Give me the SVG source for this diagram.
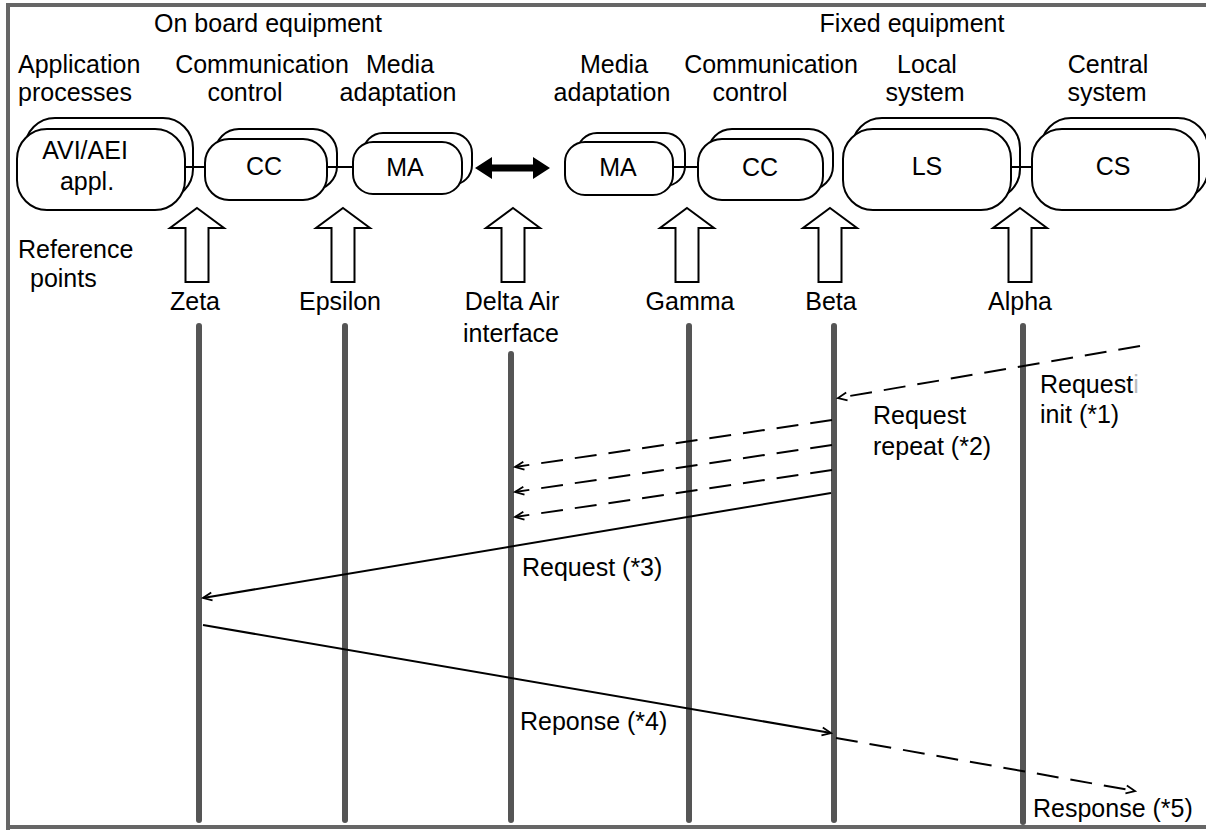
<svg xmlns="http://www.w3.org/2000/svg" width="1206" height="830" viewBox="0 0 1206 830">
<style>
text{font-family:"Liberation Sans",Arial,sans-serif;font-size:25px;fill:#000}
.c{text-anchor:middle}
.box{fill:#fff;stroke:#000;stroke-width:2}
.link{stroke:#000;stroke-width:2}
.life{stroke:#555;stroke-width:6;stroke-linecap:round}
.msg{stroke:#000;stroke-width:2;fill:none}
.dash{stroke-dasharray:22 12}
.ref{fill:#fff;stroke:#000;stroke-width:2}
.frame{stroke:#666;stroke-width:4;fill:none}
</style>
<defs>
<marker id="ah" viewBox="-11 -6 13 12" refX="0" refY="0" markerWidth="13" markerHeight="12" markerUnits="userSpaceOnUse" orient="auto">
<path d="M-9,-4 L0,0 L-9,4" fill="none" stroke="#000" stroke-width="1.8"/>
</marker>
<polygon id="up" points="0,208 27,228 11.5,228 11.5,282 -11.5,282 -11.5,228 -27,228"/>
</defs>
<rect width="1206" height="830" fill="#fff"/>
<path class="frame" d="M8,830 V5 H1206 M8,827 H1206"/>

<g id="headers">
<text class="c" x="268" y="32">On board equipment</text>
<text class="c" x="912" y="32">Fixed equipment</text>
<text x="18" y="73">Application</text>
<text x="18" y="101">processes</text>
<text class="c" x="262" y="73">Communication</text>
<text class="c" x="245" y="101">control</text>
<text class="c" x="400" y="73">Media</text>
<text class="c" x="398" y="101">adaptation</text>
<text class="c" x="614" y="73">Media</text>
<text class="c" x="612" y="101">adaptation</text>
<text class="c" x="771" y="73">Communication</text>
<text class="c" x="750" y="101">control</text>
<text class="c" x="927" y="73">Local</text>
<text class="c" x="925" y="101">system</text>
<text class="c" x="1108" y="73">Central</text>
<text class="c" x="1107" y="101">system</text>
<text x="18" y="258">Reference</text>
<text x="30" y="287">points</text>
</g>

<g id="node-avi">
<rect class="box" x="25" y="118" width="168" height="81" rx="30"/>
<rect class="box" x="17" y="129" width="168" height="81" rx="30"/>
<text class="c" x="85" y="159">AVI/AEI</text>
<text class="c" x="87" y="190">appl.</text>
</g>
<g id="node-cc-onboard">
<rect class="box" x="215" y="129" width="122" height="61" rx="24"/>
<rect class="box" x="205" y="139" width="122" height="61" rx="24"/>
<text class="c" x="264" y="175">CC</text>
</g>
<g id="node-ma-onboard">
<rect class="box" x="363" y="133" width="109" height="52" rx="20"/>
<rect class="box" x="353" y="142" width="109" height="52" rx="20"/>
<text class="c" x="405" y="176">MA</text>
</g>
<g id="node-ma-fixed">
<rect class="box" x="577" y="133" width="108" height="53" rx="20"/>
<rect class="box" x="565" y="142" width="108" height="53" rx="20"/>
<text class="c" x="618" y="176">MA</text>
</g>
<g id="node-cc-fixed">
<rect class="box" x="708" y="129" width="125" height="61" rx="24"/>
<rect class="box" x="698" y="139" width="125" height="61" rx="24"/>
<text class="c" x="760" y="176">CC</text>
</g>
<g id="node-ls">
<rect class="box" x="852" y="118" width="168" height="81" rx="30"/>
<rect class="box" x="843" y="129" width="168" height="81" rx="30"/>
<text class="c" x="927" y="175">LS</text>
</g>
<g id="node-cs">
<rect class="box" x="1041" y="118" width="167" height="81" rx="30"/>
<rect class="box" x="1032" y="129" width="167" height="81" rx="30"/>
<text class="c" x="1113" y="175">CS</text>
</g>

<g id="reference-points">
<use href="#up" x="197" class="ref"/>
<use href="#up" x="343" class="ref"/>
<use href="#up" x="513" class="ref"/>
<use href="#up" x="687" class="ref"/>
<use href="#up" x="830" class="ref"/>
<use href="#up" x="1020" class="ref"/>
<text class="c" x="195" y="310">Zeta</text>
<text class="c" x="340" y="310">Epsilon</text>
<text class="c" x="512" y="310">Delta Air</text>
<text class="c" x="511" y="342">interface</text>
<text class="c" x="690" y="310">Gamma</text>
<text class="c" x="831" y="310">Beta</text>
<text class="c" x="1020" y="310">Alpha</text>
</g>

<g id="connectors">
<line class="link" x1="185" y1="167" x2="205" y2="167"/>
<line class="link" x1="327" y1="167" x2="353" y2="167"/>
<line class="link" x1="673" y1="167" x2="698" y2="167"/>
<line class="link" x1="1011" y1="167" x2="1032" y2="167"/>
<polygon points="475,168 492,157 492,164.5 533,164.5 533,157 550,168 533,179 533,171.5 492,171.5 492,179" fill="#000"/>

<line class="life" x1="199" y1="326" x2="199" y2="820"/>
<line class="life" x1="345" y1="326" x2="345" y2="820"/>
<line class="life" x1="511" y1="354" x2="511" y2="820"/>
<line class="life" x1="689" y1="326" x2="689" y2="820"/>
<line class="life" x1="834" y1="326" x2="834" y2="820"/>
<line class="life" x1="1023" y1="326" x2="1023" y2="822"/>

<line class="msg dash" x1="1140" y1="346" x2="838" y2="398" marker-end="url(#ah)"/>
<line class="msg dash" x1="832" y1="420" x2="515" y2="467" marker-end="url(#ah)"/>
<line class="msg dash" x1="832" y1="445" x2="515" y2="492" marker-end="url(#ah)"/>
<line class="msg dash" x1="832" y1="470" x2="515" y2="517" marker-end="url(#ah)"/>
<line class="msg" x1="831" y1="493" x2="203" y2="598" marker-end="url(#ah)"/>
<line class="msg" x1="203" y1="625" x2="831" y2="733" marker-end="url(#ah)"/>
<line class="msg dash" x1="836" y1="738" x2="1135" y2="791" marker-end="url(#ah)"/>
</g>

<g id="labels">
<text x="1040" y="393">Request<tspan fill="#bbb">i</tspan></text>
<text x="1040" y="423">init (*1)</text>
<text x="873" y="424">Request</text>
<text x="873" y="455">repeat (*2)</text>
<text x="522" y="576">Request (*3)</text>
<text x="520" y="730">Reponse (*4)</text>
<text x="1033" y="817">Response (*5)</text>
</g>
</svg>
